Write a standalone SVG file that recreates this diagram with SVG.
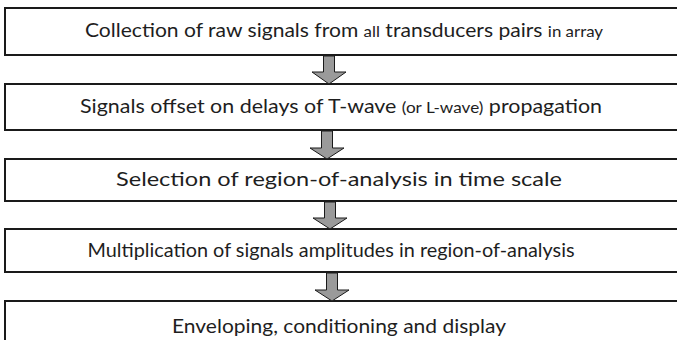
<svg xmlns="http://www.w3.org/2000/svg" width="677" height="340" viewBox="0 0 677 340">
  <style>
    .box { fill: #ffffff; stroke: #1a1a1a; stroke-width: 2; }
    .lbl { font-family: Lato, "Open Sans", "Liberation Sans", sans-serif; font-size: 20px; fill: #1e1e1e; text-anchor: middle; }
    .sm { font-size: 16px; }
    .arr { fill: #9a9a9a; stroke: #1a1a1a; stroke-width: 1; stroke-linejoin: miter; }
  </style>
  <rect width="677" height="340" fill="#ffffff"/>
  <g id="step1">
    <rect class="box" x="5" y="8" width="690" height="47"/>
    <text class="lbl" x="344" y="37" textLength="518" lengthAdjust="spacingAndGlyphs">Collection of raw signals from <tspan class="sm">all</tspan> transducers pairs <tspan class="sm">in array</tspan></text>
  </g>
  <g id="step2">
    <rect class="box" x="5" y="84" width="690" height="46"/>
    <text class="lbl" x="341" y="113" textLength="522" lengthAdjust="spacingAndGlyphs">Signals offset on delays of T-wave <tspan class="sm">(or L-wave)</tspan> propagation</text>
  </g>
  <g id="step3">
    <rect class="box" x="5" y="159" width="690" height="42"/>
    <text class="lbl" x="339" y="186" textLength="446" lengthAdjust="spacingAndGlyphs">Selection of region-of-analysis in time scale</text>
  </g>
  <g id="step4">
    <rect class="box" x="5" y="229" width="690" height="43"/>
    <text class="lbl" x="331" y="257" textLength="487" lengthAdjust="spacingAndGlyphs">Multiplication of signals amplitudes in region-of-analysis</text>
  </g>
  <g id="step5">
    <rect class="box" x="5" y="301" width="690" height="50"/>
    <text class="lbl" x="339" y="333" textLength="334" lengthAdjust="spacingAndGlyphs">Enveloping, conditioning and display</text>
  </g>
  <g id="connectors">
    <polygon class="arr" points="323.5,56 334.5,56 334.5,72 346,72 329,84 312,72 323.5,72"/>
    <polygon class="arr" points="321.5,131 332.5,131 332.5,148 344,148 327,159 310,148 321.5,148"/>
    <polygon class="arr" points="324.5,202 335.5,202 335.5,218 347,218 330,229 313,218 324.5,218"/>
    <polygon class="arr" points="326.5,273 337.5,273 337.5,290 349,290 332,301 315,290 326.5,290"/>
  </g>
</svg>
